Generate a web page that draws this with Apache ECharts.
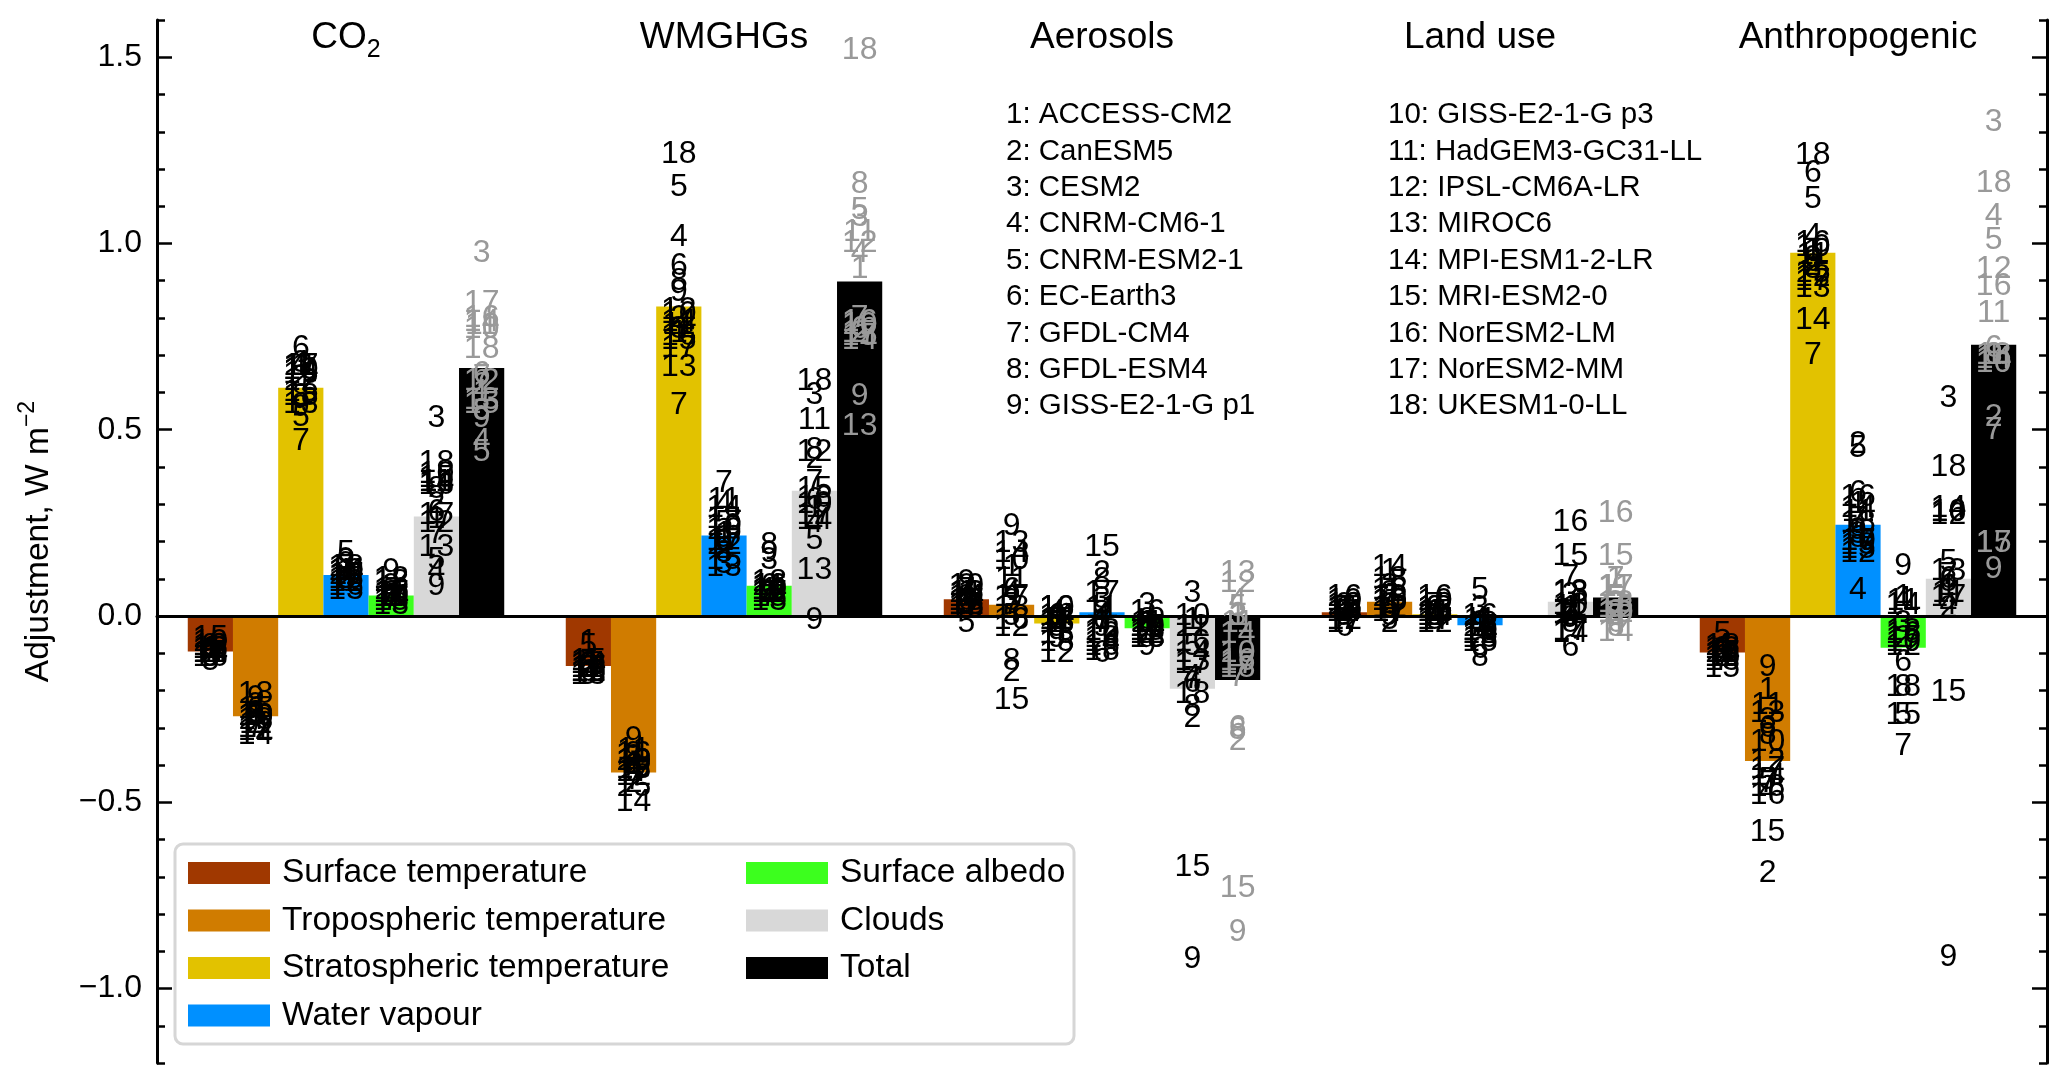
<!DOCTYPE html>
<html><head><meta charset="utf-8">
<script src="https://cdn.jsdelivr.net/npm/echarts@6/dist/echarts.min.js"></script>
<style>html,body{margin:0;padding:0;background:#fff}#c{width:2067px;height:1082px}</style>
</head><body><div id="c"></div>
<script>
const FONT = '"Liberation Sans", Arial, sans-serif';
const groups = ['CO2', 'WMGHGs', 'Aerosols', 'Land use', 'Anthropogenic'];
const components = ['Surface temperature', 'Tropospheric temperature', 'Stratospheric temperature',
  'Water vapour', 'Surface albedo', 'Clouds', 'Total'];
const colors = ['#a03800', '#d07c00', '#e2c200', '#0090ff', '#3cff1e', '#d8d8d8', '#000000'];
const models = ['ACCESS-CM2', 'CanESM5', 'CESM2', 'CNRM-CM6-1', 'CNRM-ESM2-1', 'EC-Earth3', 'GFDL-CM4',
  'GFDL-ESM4', 'GISS-E2-1-G p1', 'GISS-E2-1-G p3', 'HadGEM3-GC31-LL', 'IPSL-CM6A-LR', 'MIROC6',
  'MPI-ESM1-2-LR', 'MRI-ESM2-0', 'NorESM2-LM', 'NorESM2-MM', 'UKESM1-0-LL'];
const yMajorTicks = [-1.0, -0.5, 0.0, 0.5, 1.0, 1.5];

// multi-model mean bars (per group)
const barSfc = [-0.095, -0.134, 0.045, 0.01, -0.098];
const barTrop = [-0.269, -0.42, 0.03, 0.038, -0.389];
const barStrat = [0.613, 0.831, -0.02, 0.005, 0.975];
const barWv = [0.11, 0.216, 0.01, -0.025, 0.245];
const barAlb = [0.055, 0.081, -0.033, null, -0.085];
const barCld = [0.267, 0.336, -0.195, 0.038, 0.10];
const barTot = [0.666, 0.898, -0.172, 0.05, 0.728];

// individual models (1..18)
const co2Sfc = [-0.09,-0.10,-0.11,-0.08,-0.12,-0.09,-0.10,-0.08,-0.11,-0.07,-0.10,-0.09,-0.08,-0.10,-0.06,-0.11,-0.10,-0.09];
const co2Trop = [-0.26,-0.29,-0.24,-0.28,-0.27,-0.25,-0.30,-0.26,-0.22,-0.27,-0.29,-0.31,-0.28,-0.32,-0.25,-0.27,-0.30,-0.21];
const co2Strat = [0.67,0.64,0.68,0.68,0.535,0.72,0.47,0.59,0.56,0.66,0.67,0.63,0.57,0.66,0.60,0.65,0.67,0.59];
const co2Wv = [0.12,0.10,0.14,0.11,0.17,0.09,0.13,0.10,0.15,0.12,0.11,0.09,0.07,0.12,0.10,0.08,0.11,0.13];
const co2Alb = [0.05,0.06,0.08,0.04,0.05,0.06,0.04,0.07,0.12,0.05,0.06,0.10,0.03,0.05,0.04,0.07,0.06,0.09];
const co2Cld = [0.26,0.30,0.53,0.12,0.15,0.28,0.22,0.34,0.08,0.38,0.36,0.25,0.185,0.36,0.37,0.35,0.27,0.41];
const co2Tot = [0.60,0.62,0.975,0.47,0.44,0.65,0.64,0.55,0.53,0.77,0.78,0.63,0.58,0.79,0.57,0.80,0.84,0.715];

const ghgSfc = [-0.07,-0.14,-0.13,-0.12,-0.08,-0.15,-0.14,-0.13,-0.16,-0.15,-0.14,-0.15,-0.16,-0.13,-0.12,-0.15,-0.14,-0.13];
const ghgTrop = [-0.40,-0.45,-0.37,-0.41,-0.42,-0.40,-0.44,-0.38,-0.33,-0.39,-0.36,-0.43,-0.41,-0.50,-0.46,-0.37,-0.42,-0.39];
const ghgStrat = [0.76,0.80,0.77,1.016,1.15,0.94,0.567,0.90,0.87,0.81,0.78,0.82,0.667,0.79,0.74,0.75,0.72,1.24];
const ghgWv = [0.22,0.18,0.14,0.30,0.25,0.20,0.357,0.17,0.21,0.24,0.31,0.19,0.13,0.29,0.15,0.23,0.20,0.26];
const ghgAlb = [0.07,0.06,0.15,0.05,0.06,0.08,0.05,0.19,0.17,0.07,0.08,0.06,0.04,0.07,0.05,0.08,0.06,0.09];
const ghgCld = [0.29,0.42,0.594,0.25,0.204,0.31,0.36,0.446,-0.01,0.30,0.527,0.44,0.124,0.258,0.34,0.317,0.27,0.63];
const ghgTot = [0.93,0.76,1.07,0.975,1.09,0.77,0.80,1.16,0.59,0.78,1.03,1.0,0.51,0.74,0.75,0.79,0.76,1.52];

const aerSfc = [0.06,0.08,0.03,0.05,-0.02,0.04,0.07,0.05,0.09,0.08,0.06,0.03,0.04,0.05,0.02,0.06,0.04,0.03];
const aerTrop = [0.13,-0.15,0.04,0.06,0.0,0.07,0.03,-0.12,0.24,0.15,0.10,-0.03,0.196,0.17,-0.226,-0.01,0.05,0.02];
const aerStrat = [0.00,-0.02,-0.01,0.01,-0.03,0.00,-0.02,-0.01,-0.06,0.02,-0.01,-0.10,-0.05,0.00,-0.02,0.02,-0.01,-0.07];
const aerWv = [-0.01,0.115,0.045,0.0,0.03,-0.1,-0.02,0.097,-0.03,-0.05,0.02,-0.04,-0.06,-0.07,0.186,-0.08,0.06,-0.095];
const aerAlb = [-0.02,-0.04,0.03,-0.03,-0.05,-0.02,-0.04,-0.01,-0.08,-0.03,-0.02,-0.05,-0.06,-0.03,-0.04,0.01,-0.03,-0.06];
const aerCld = [-0.01,-0.275,0.062,-0.165,-0.08,-0.18,-0.17,-0.245,-0.92,0.0,-0.03,-0.03,-0.12,-0.10,-0.675,-0.07,-0.13,-0.21];
const aerTot = [0.0,-0.335,0.0,0.04,0.025,-0.3,-0.165,-0.306,-0.85,-0.1,-0.02,0.088,0.115,-0.05,-0.73,-0.12,-0.13,-0.14];

const luSfc = [0.02,0.01,0.03,0.00,0.01,-0.03,0.02,0.01,0.0,0.04,0.02,-0.01,0.03,0.01,0.02,0.05,-0.02,0.01];
const luTrop = [0.12,-0.02,0.08,0.03,-0.01,0.03,0.05,0.06,0.0,0.04,0.02,0.02,0.05,0.13,0.04,0.07,0.01,0.10];
const luStrat = [0.01,0.0,0.02,0.0,-0.01,0.01,0.03,0.02,0.0,0.04,0.01,-0.02,0.02,0.0,0.01,0.05,-0.01,0.02];
const luWv = [-0.02,-0.03,0.02,-0.01,0.07,-0.09,-0.03,-0.11,-0.02,-0.04,-0.01,-0.05,-0.06,-0.04,-0.07,0.0,-0.03,-0.05];
const luAlb = [null,null,null,null,null,null,null,null,null,null,null,null,null,null,null,null,null,null];
const luCld = [0.02,0.01,0.055,0.0,0.0,-0.083,0.105,-0.02,-0.005,0.03,0.025,0.005,0.06,-0.045,0.16,0.253,-0.04,0.065];
const luTot = [0.1,0.01,0.035,-0.01,0.05,-0.02,0.1,-0.03,0.0,0.008,0.078,0.008,0.035,-0.043,0.16,0.277,0.078,0.02];

const anSfc = [-0.09,-0.11,-0.10,-0.08,-0.05,-0.11,-0.12,-0.10,-0.09,-0.11,-0.10,-0.09,-0.12,-0.10,-0.14,-0.11,-0.10,-0.08];
const anTrop = [-0.20,-0.69,-0.28,-0.47,-0.44,-0.30,-0.45,-0.32,-0.137,-0.34,-0.24,-0.39,-0.26,-0.43,-0.58,-0.48,-0.41,-0.46];
const anStrat = [0.98,0.94,0.95,1.02,1.12,1.19,0.70,0.93,0.96,0.99,0.97,0.91,0.88,0.795,0.92,1.0,0.9,1.237];
const anWv = [0.30,0.46,0.22,0.07,0.45,0.33,0.26,0.21,0.23,0.2,0.28,0.17,0.19,0.29,0.18,0.32,0.2,0.25];
const anAlb = [0.05,-0.06,-0.02,0.045,-0.265,-0.125,-0.35,-0.19,0.135,-0.07,0.04,-0.08,-0.04,0.03,-0.265,-0.05,-0.06,-0.19];
const anCld = [0.08,0.02,0.586,0.03,0.145,0.10,0.11,0.09,-0.915,0.28,0.06,0.27,0.12,0.29,-0.205,0.28,0.05,0.40];
const anTot = [0.70,0.535,1.325,1.073,1.01,0.72,0.5,0.70,0.125,0.68,0.814,0.93,0.70,0.69,0.195,0.885,0.195,1.163];

const barData = [barSfc, barTrop, barStrat, barWv, barAlb, barCld, barTot];
const modelData = [
  [co2Sfc, co2Trop, co2Strat, co2Wv, co2Alb, co2Cld, co2Tot],
  [ghgSfc, ghgTrop, ghgStrat, ghgWv, ghgAlb, ghgCld, ghgTot],
  [aerSfc, aerTrop, aerStrat, aerWv, aerAlb, aerCld, aerTot],
  [luSfc, luTrop, luStrat, luWv, luAlb, luCld, luTot],
  [anSfc, anTrop, anStrat, anWv, anAlb, anCld, anTot]
];

const BAR_FRAC = 0.1196;
const FS_NUM = 32;     // model number labels
const FS_TICK = 32;    // tick labels
const FS_LEG = 33.5;   // legend
const FS_TITLE = 37;   // group titles
const FS_LIST = 29.5;  // model list

const compLabels = [], totLabels = [];
modelData.forEach((grp, g) => grp.forEach((arr, c) => arr.forEach((v, m) => {
  if (v === null) return;
  (c === 6 ? totLabels : compLabels).push([g, v, m + 1, c]);
})));

function labelSeries(data, color) {
  return {
    type: 'custom', xAxisIndex: 0, yAxisIndex: 0, z: 10, clip: false,
    encode: {x: 0, y: 1}, data: data, silent: true,
    renderItem: function (params, api) {
      const p = api.coord([api.value(0), api.value(1)]);
      const band = api.size([1, 0])[0];
      const x = p[0] + (api.value(3) - 3) * band * BAR_FRAC;
      return {type: 'text', x: x, y: p[1],
        style: {text: String(api.value(2)), fill: color, font: FS_NUM + 'px ' + FONT,
          align: 'center', verticalAlign: 'middle'}};
    }
  };
}

const barSeries = components.map((name, c) => ({
  name: name, type: 'bar', xAxisIndex: 0, yAxisIndex: 0,
  barWidth: (BAR_FRAC * 100) + '%', barGap: '0%', z: 2,
  itemStyle: {color: colors[c]}, data: barData[c]
}));

const listText = models.map((name, i) => ({
  type: 'text', z: 50,
  x: i < 9 ? 1006 : 1388, y: 115 + (i % 9) * 36.4,
  style: {text: (i + 1) + ': ' + name, font: FS_LIST + 'px ' + FONT, fill: '#000',
    align: 'left', verticalAlign: 'middle'}
}));

const fmt = v => (v < 0 ? '\u2212' : '') + Math.abs(v).toFixed(1);
const yBase = {type: 'value', min: -1.2, max: 1.6, splitLine: {show: false}};
const lineSt = {color: '#000', width: 2.5};
const legText = {fontSize: FS_LEG, fontFamily: FONT, color: '#000', lineHeight: 36, padding: [0, 0, 0, 7]};

const option = {
  animation: false,
  backgroundColor: '#fff',
  grid: {left: 157, right: 20, top: 20, bottom: 19, containLabel: false},
  xAxis: [
    {type: 'category', data: groups, position: 'bottom', z: 5,
      axisLine: {show: true, onZero: true, lineStyle: {color: '#000', width: 3}},
      axisTick: {show: false}, axisLabel: {show: false}, splitLine: {show: false}},
    {type: 'category', data: groups, position: 'top',
      axisLine: {show: false, onZero: false}, axisTick: {show: false},
      axisLabel: {inside: true, margin: 18, verticalAlign: 'middle', color: '#000',
        fontSize: FS_TITLE, fontFamily: FONT,
        formatter: v => v === 'CO2' ? 'CO{sub|2}' : v,
        rich: {sub: {fontSize: 25, fontFamily: FONT, color: '#000', padding: [24, 0, 0, 0]}}},
      splitLine: {show: false}}
  ],
  yAxis: [
    Object.assign({}, yBase, {position: 'left', interval: 0.1,
      axisLine: {show: true, lineStyle: {color: '#000', width: 3}},
      axisTick: {show: true, inside: true, length: 8, lineStyle: lineSt},
      axisLabel: {customValues: yMajorTicks, formatter: fmt, color: '#000', fontSize: FS_TICK,
        fontFamily: FONT, margin: 15},
      name: 'Adjustment, W m{sup|\u22122}', nameLocation: 'middle', nameRotate: 90, nameGap: 96,
      nameTextStyle: {color: '#000', fontSize: FS_LEG, fontFamily: FONT,
        rich: {sup: {fontSize: 23, fontFamily: FONT, color: '#000', padding: [0, 0, 22, 0]}}}}),
    Object.assign({}, yBase, {position: 'left',
      axisLine: {show: false},
      axisTick: {show: true, inside: true, length: 15, customValues: yMajorTicks, lineStyle: lineSt},
      axisLabel: {show: false}}),
    Object.assign({}, yBase, {position: 'right', interval: 0.1,
      axisLine: {show: true, lineStyle: {color: '#000', width: 3}},
      axisTick: {show: true, inside: true, length: 8, lineStyle: lineSt},
      axisLabel: {show: false}}),
    Object.assign({}, yBase, {position: 'right',
      axisLine: {show: false},
      axisTick: {show: true, inside: true, length: 15, customValues: yMajorTicks, lineStyle: lineSt},
      axisLabel: {show: false}})
  ],
  legend: [
    {data: components.slice(0, 4), orient: 'vertical', left: 188, top: 855, padding: 0,
      itemWidth: 82, itemHeight: 22, itemGap: 11.5, icon: 'rect', selectedMode: false, z: 30,
      textStyle: legText},
    {data: components.slice(4), orient: 'vertical', left: 746, top: 855, padding: 0,
      itemWidth: 82, itemHeight: 22, itemGap: 11.5, icon: 'rect', selectedMode: false, z: 30,
      textStyle: legText}
  ],
  graphic: [
    {type: 'rect', z: 20, shape: {x: 175, y: 844, width: 899, height: 200, r: 8},
      style: {fill: '#fff', stroke: '#d6d6d6', lineWidth: 3}}
  ].concat(listText),
  series: barSeries.concat([labelSeries(compLabels, '#000'), labelSeries(totLabels, '#999999')])
};

const chart = echarts.init(document.getElementById('c'), null, {renderer: 'canvas'});
chart.setOption(option);
</script></body></html>
